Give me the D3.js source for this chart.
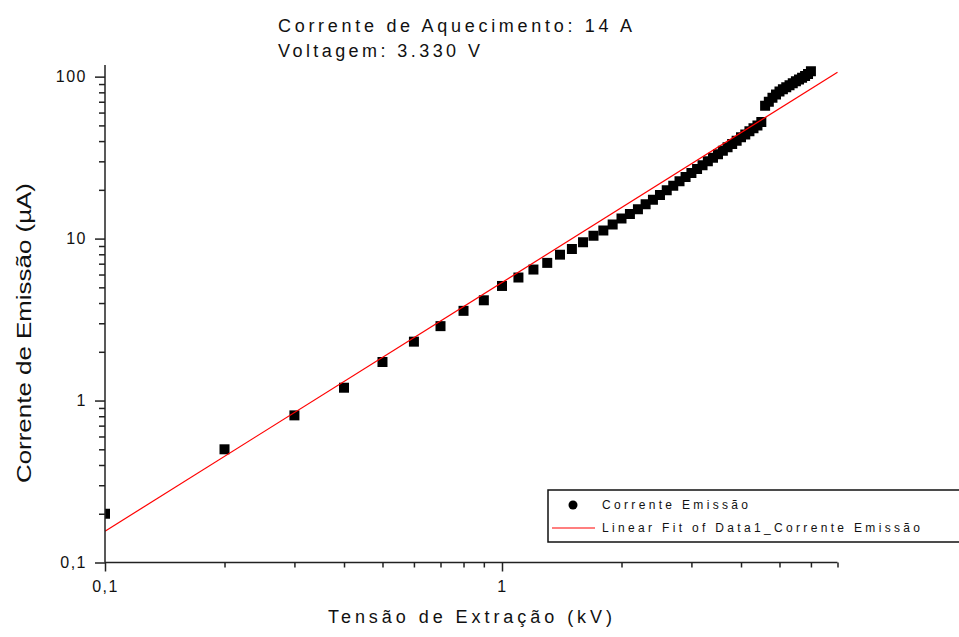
<!DOCTYPE html>
<html>
<head>
<meta charset="utf-8">
<script src="https://cdn.jsdelivr.net/npm/d3@7"></script>
<style>
  html, body { margin: 0; padding: 0; background: #fff; }
  svg { display: block; }
  text { font-family: "Liberation Sans", Arial, sans-serif; fill: #111; }
</style>
</head>
<body>
<svg id="chart" width="959" height="637"></svg>
<script>
// Extraction voltage (kV) and measured emission current (µA)
const tensao = [
  0.1, 0.2, 0.3, 0.4, 0.5, 0.6, 0.7, 0.8, 0.9, 1.0,
  1.1, 1.2, 1.3, 1.4, 1.5, 1.6, 1.7, 1.8, 1.9, 2.0,
  2.1, 2.2, 2.3, 2.4, 2.5, 2.6, 2.7, 2.8, 2.9, 3.0,
  3.1, 3.2, 3.3, 3.4, 3.5, 3.6, 3.7, 3.8, 3.9, 4.0,
  4.1, 4.2, 4.3, 4.4, 4.5, 4.6, 4.7, 4.8, 4.9, 5.0,
  5.1, 5.2, 5.3, 5.4, 5.5, 5.6, 5.7, 5.8, 5.9, 6.0
];
const corrente = [
  0.20, 0.50, 0.81, 1.20, 1.73, 2.31, 2.88, 3.58, 4.16, 5.10,
  5.75, 6.44, 7.08, 7.96, 8.63, 9.49, 10.4, 11.2, 12.2, 13.3,
  14.2, 15.2, 16.3, 17.4, 18.6, 19.9, 21.2, 22.6, 24.0, 25.4,
  26.9, 28.4, 30.0, 31.6, 33.2, 34.9, 36.6, 38.4, 40.2, 42.2,
  44.0, 46.0, 48.0, 50.0, 52.5, 66.0, 70.0, 74.0, 77.5, 81.0,
  83.5, 86.0, 88.5, 91.0, 93.5, 96.0, 98.5, 101, 104, 108
];

// Linear fit (log-log) endpoints
const fitX = [0.1, 7];
const fitY = [0.156, 106.4];

// Axis ticks
const xMajor = [0.1, 1];
const xMinor = [0.2, 0.3, 0.4, 0.5, 0.6, 0.7, 0.8, 0.9, 2, 3, 4, 5, 6, 7];
const yMajor = [0.1, 1, 10, 100];
const yMinor = [0.2, 0.3, 0.4, 0.5, 0.6, 0.7, 0.8, 0.9,
                2, 3, 4, 5, 6, 7, 8, 9,
                20, 30, 40, 50, 60, 70, 80, 90];

const titleLines = ["Corrente de Aquecimento: 14 A", "Voltagem: 3.330 V"];
const xTitle = "Tensão de Extração (kV)";
const yTitle = "Corrente de Emissão (µA)";
const legendLabels = ["Corrente Emissão", "Linear Fit of Data1_Corrente Emissão"];

const svg = d3.select("#chart");
const plot = { left: 105, right: 837.5, top: 65, bottom: 562.5 };

const x = d3.scaleLog().domain([0.1, 7]).range([plot.left, plot.right]);
const y = d3.scaleLog().domain([0.1, 118]).range([plot.bottom, plot.top]);

const fmt = d => String(d).replace(".", ",");

svg.append("defs").append("clipPath").attr("id", "plotClip")
  .append("rect")
  .attr("x", plot.left).attr("y", plot.top - 10)
  .attr("width", plot.right - plot.left + 10)
  .attr("height", plot.bottom - plot.top + 10);

// Data markers
const pts = tensao.map((v, i) => ({ x: v, y: corrente[i] }));
svg.append("g").attr("clip-path", "url(#plotClip)")
  .selectAll("path").data(pts).enter().append("path")
  .attr("d", d3.symbol().type(d3.symbolSquare).size(100))
  .attr("transform", d => `translate(${x(d.x)},${y(d.y)})`)
  .attr("fill", "#000");

// Fit line
svg.append("path")
  .datum(fitX.map((v, i) => [v, fitY[i]]))
  .attr("d", d3.line().x(d => x(d[0])).y(d => y(d[1])))
  .attr("fill", "none")
  .attr("stroke", "#ff0000")
  .attr("stroke-width", 1.2);

// Axes
const axisColor = "#222";
function styleAxis(g) {
  g.select(".domain").remove();
  g.selectAll(".tick line").attr("stroke", axisColor).attr("stroke-width", 1.5);
  g.selectAll(".tick text")
    .style("font-size", "16px")
    .style("letter-spacing", "1.5px")
    .attr("fill", "#111");
}

const gxMinor = svg.append("g").attr("transform", `translate(0,${plot.bottom})`)
  .call(d3.axisBottom(x).tickValues(xMinor).tickSize(5).tickFormat(""));
styleAxis(gxMinor);
const gxMajor = svg.append("g").attr("transform", `translate(0,${plot.bottom})`)
  .call(d3.axisBottom(x).tickValues(xMajor).tickSize(9).tickPadding(9).tickFormat(fmt));
styleAxis(gxMajor);

const gyMinor = svg.append("g").attr("transform", `translate(${plot.left},0)`)
  .call(d3.axisLeft(y).tickValues(yMinor).tickSize(6).tickFormat(""));
styleAxis(gyMinor);
const gyMajor = svg.append("g").attr("transform", `translate(${plot.left},0)`)
  .call(d3.axisLeft(y).tickValues(yMajor).tickSize(10).tickPadding(8).tickFormat(fmt));
styleAxis(gyMajor);

// Axis lines
svg.append("line")
  .attr("x1", plot.left).attr("x2", plot.right)
  .attr("y1", plot.bottom).attr("y2", plot.bottom)
  .attr("stroke", axisColor).attr("stroke-width", 1.5);
svg.append("line")
  .attr("x1", plot.left).attr("x2", plot.left)
  .attr("y1", plot.top).attr("y2", plot.bottom)
  .attr("stroke", axisColor).attr("stroke-width", 1.5);

// Title
svg.append("text").attr("x", 278).attr("y", 32)
  .attr("textLength", 354).attr("lengthAdjust", "spacing")
  .style("font-size", "18px").text(titleLines[0]);
svg.append("text").attr("x", 278).attr("y", 57)
  .attr("textLength", 202).attr("lengthAdjust", "spacing")
  .style("font-size", "18px").text(titleLines[1]);

// Axis titles
svg.append("text").attr("x", 328).attr("y", 623)
  .attr("textLength", 284).attr("lengthAdjust", "spacing")
  .style("font-size", "18px").text(xTitle);
svg.append("text")
  .attr("transform", "translate(31,483) rotate(-90)")
  .attr("x", 0).attr("y", 0)
  .attr("textLength", 300).attr("lengthAdjust", "spacingAndGlyphs")
  .style("font-size", "20px").text(yTitle);

// Legend
const lg = svg.append("g");
lg.append("rect")
  .attr("x", 548).attr("y", 490).attr("width", 430).attr("height", 52)
  .attr("fill", "#fff").attr("stroke", "#111").attr("stroke-width", 1.5);
lg.append("circle").attr("cx", 573).attr("cy", 505).attr("r", 4.5).attr("fill", "#000");
lg.append("text").attr("x", 602).attr("y", 509)
  .attr("textLength", 146).attr("lengthAdjust", "spacing")
  .style("font-size", "12px").text(legendLabels[0]);
lg.append("line").attr("x1", 552).attr("x2", 595).attr("y1", 528).attr("y2", 528)
  .attr("stroke", "#ff0000").attr("stroke-width", 1.2);
lg.append("text").attr("x", 602).attr("y", 532)
  .attr("textLength", 318).attr("lengthAdjust", "spacing")
  .style("font-size", "12px").text(legendLabels[1]);
</script>
</body>
</html>
